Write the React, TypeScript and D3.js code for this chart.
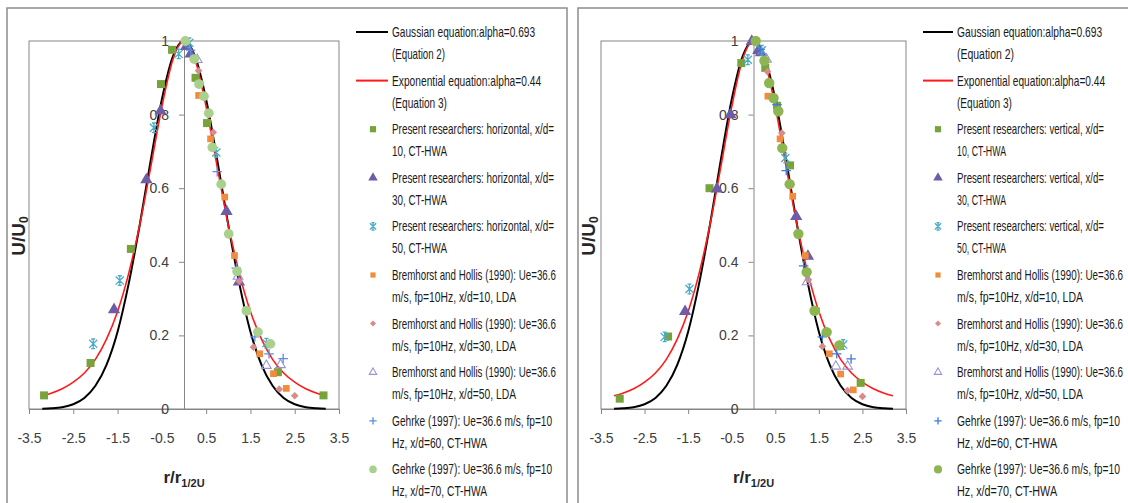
import React, { useEffect, useRef } from 'react';
import * as d3 from 'd3';

type Pt = [number, number];

// fitted curves at a few x positions
const curveX = [-3.2, -3, -2.75, -2.5, -2.25, -2, -1.75, -1.5, -1.25, -1, -0.75, -0.5, -0.25, 0,
  0.25, 0.5, 0.75, 1, 1.25, 1.5, 1.75, 2, 2.25, 2.5, 2.75, 3, 3.2];
const gaussianY = [0.001, 0.002, 0.005, 0.013, 0.03, 0.063, 0.12, 0.21, 0.34, 0.5, 0.677, 0.841, 0.958, 1,
  0.958, 0.841, 0.677, 0.5, 0.34, 0.21, 0.12, 0.063, 0.03, 0.013, 0.005, 0.002, 0.001];
const exponentialY = [0.036, 0.043, 0.055, 0.073, 0.098, 0.135, 0.19, 0.265, 0.368, 0.5, 0.658, 0.821, 0.95, 1,
  0.95, 0.821, 0.658, 0.5, 0.368, 0.265, 0.19, 0.135, 0.098, 0.073, 0.055, 0.043, 0.036];

// horizontal traverse (left chart)
const hPresent10: Pt[] = [[-3.16, 0.037], [-2.11, 0.125], [-1.2, 0.435], [-0.52, 0.883], [-0.27, 0.976], [0.26, 0.9], [0.52, 0.777], [2.12, 0.1], [3.15, 0.037]];
const hPresent30: Pt[] = [[-1.58, 0.27], [-0.85, 0.623], [-0.53, 0.81], [0.05, 0.985], [0.15, 0.965], [0.96, 0.537], [1.24, 0.345]];
const hPresent50: Pt[] = [[-2.05, 0.177], [-1.45, 0.349], [-0.68, 0.764], [-0.12, 0.965], [0.12, 0.995], [0.73, 0.697], [1.86, 0.179]];
const hBrem10: Pt[] = [[0.33, 0.852], [0.6, 0.734], [0.92, 0.576], [1.14, 0.417], [1.43, 0.267], [1.71, 0.15], [2.02, 0.096], [2.31, 0.056]];
const hBrem30: Pt[] = [[0.33, 0.919], [0.66, 0.752], [1.25, 0.347], [1.57, 0.168], [2.15, 0.054], [2.5, 0.036]];
const hBrem50: Pt[] = [[0.3, 0.949], [1.22, 0.36], [1.86, 0.118], [2.18, 0.12]];
const hGehrke60: Pt[] = [[0.15, 0.975], [0.75, 0.645], [1.18, 0.383], [1.6, 0.196], [1.92, 0.15], [2.24, 0.137]];
const hGehrke70: Pt[] = [[0.03, 1.0], [0.23, 0.951], [0.34, 0.883], [0.45, 0.85], [0.56, 0.804], [0.64, 0.711], [0.84, 0.611], [1.01, 0.476], [1.2, 0.374], [1.41, 0.267], [1.67, 0.209], [1.95, 0.177]];

// vertical traverse (right chart)
const vPresent10: Pt[] = [[-3.07, 0.028], [-1.96, 0.197], [-1.01, 0.6], [-0.28, 0.94], [0.27, 0.927], [0.54, 0.824], [0.84, 0.662], [2.46, 0.071]];
const vPresent30: Pt[] = [[-1.57, 0.265], [-0.84, 0.598], [-0.53, 0.8], [-0.04, 0.999], [0.11, 0.974], [0.17, 0.968], [0.98, 0.523], [1.25, 0.415]];
const vPresent50: Pt[] = [[-2.04, 0.196], [-1.47, 0.326], [-0.13, 0.949], [0.19, 0.975], [0.73, 0.682], [2.06, 0.175]];
const vBrem10: Pt[] = [[0.33, 0.85], [0.61, 0.734], [0.9, 0.578], [1.19, 0.417], [1.45, 0.267], [1.74, 0.15], [2.0, 0.095], [2.29, 0.052]];
const vBrem30: Pt[] = [[0.32, 0.917], [0.65, 0.75], [1.26, 0.351], [1.58, 0.17], [2.16, 0.05], [2.5, 0.034]];
const vBrem50: Pt[] = [[0.3, 0.95], [1.23, 0.345], [1.89, 0.116], [2.16, 0.116]];
const vGehrke60: Pt[] = [[0.15, 0.977], [0.54, 0.827], [0.75, 0.648], [1.15, 0.389], [1.58, 0.196], [1.91, 0.15], [2.24, 0.136]];
const vGehrke70: Pt[] = [[0.05, 1.0], [0.25, 0.946], [0.36, 0.886], [0.46, 0.845], [0.57, 0.809], [0.66, 0.709], [0.83, 0.611], [1.03, 0.476], [1.22, 0.372], [1.4, 0.267], [1.68, 0.209], [1.97, 0.173]];

const xTicks = [-3.5, -2.5, -1.5, -0.5, 0.5, 1.5, 2.5, 3.5];
const yTicks = [0, 0.2, 0.4, 0.6, 0.8, 1];

const legendH: string[][] = [
  ['Gaussian equation:alpha=0.693', '(Equation 2)'],
  ['Exponential equation:alpha=0.44', '(Equation 3)'],
  ['Present researchers: horizontal, x/d=', '10, CT-HWA'],
  ['Present researchers: horizontal, x/d=', '30, CT-HWA'],
  ['Present researchers: horizontal, x/d=', '50, CT-HWA'],
  ['Bremhorst and Hollis (1990): Ue=36.6', 'm/s, fp=10Hz, x/d=10, LDA'],
  ['Bremhorst and Hollis (1990): Ue=36.6', 'm/s, fp=10Hz, x/d=30, LDA'],
  ['Bremhorst and Hollis (1990): Ue=36.6', 'm/s, fp=10Hz, x/d=50, LDA'],
  ['Gehrke (1997): Ue=36.6 m/s, fp=10', 'Hz, x/d=60, CT-HWA'],
  ['Gehrke (1997): Ue=36.6 m/s, fp=10', 'Hz, x/d=70, CT-HWA'],
];
const legendV: string[][] = legendH.map((l, i) =>
  i >= 2 && i <= 4 ? [l[0].replace('horizontal', 'vertical'), l[1]] : l);

// rendered widths of the condensed legend text
const widthsH = [[143, 53], [149, 55], [162, 55], [162, 55], [162, 55], [164, 124], [164, 124], [164, 124], [160, 95], [160, 95]];
const widthsV = [[145, 57], [148, 55], [147, 49], [147, 49], [147, 49], [166, 126], [166, 126], [166, 126], [163, 100], [163, 100]];

type MarkerStyle = { kind: string; fill: string; stroke: string; size: number };

const asteriskPath = (r: number) =>
  `M${-r},${-r}L${r},${r}M${-r},${r}L${r},${-r}M0,${-r * 1.2}L0,${r * 1.2}M${-r * 0.5},${-r * 1.2}L${r * 0.5},${-r * 1.2}M${-r * 0.5},${r * 1.2}L${r * 0.5},${r * 1.2}`;

function markerPath(kind: string, size: number): string {
  const sym = d3.symbol();
  if (kind === 'square') return sym.type(d3.symbolSquare).size(size)() as string;
  if (kind === 'triangle') return sym.type(d3.symbolTriangle).size(size)() as string;
  if (kind === 'circle') return sym.type(d3.symbolCircle).size(size)() as string;
  if (kind === 'diamond') return sym.type(d3.symbolSquare).size(size)() as string;
  if (kind === 'plus') {
    const r = Math.sqrt(size) / 2;
    return `M${-r},0L${r},0M0,${-r}L0,${r}`;
  }
  return asteriskPath(Math.sqrt(size) / 2.6);
}

const Marker = ({ m, cx, cy, scale = 1 }: { m: MarkerStyle; cx: number; cy: number; scale?: number }) => (
  <path
    d={markerPath(m.kind, m.size * scale)}
    transform={`translate(${cx},${cy})${m.kind === 'diamond' ? ' rotate(45)' : ''}`}
    fill={m.fill}
    stroke={m.stroke}
    strokeWidth={m.kind === 'plus' || m.kind === 'asterisk' ? 1.3 : m.kind === 'triangle' && m.fill === 'none' ? 1.1 : 0}
  />
);

type PanelProps = {
  frameX: number;
  plotX0: number;
  plotX1: number;
  yTitleX: number;
  lineX0: number;
  lineX1: number;
  markerX: number;
  textX: number;
  series: Pt[][];
  styles: MarkerStyle[];
  legend: string[][];
  widths: number[][];
};

const PLOT_TOP = 41;
const PLOT_BOTTOM = 409;
const AXIS_GREY = '#868686';
const FONT = '"Liberation Sans", Arial, sans-serif';

function Panel(p: PanelProps) {
  const xAxisRef = useRef<SVGGElement>(null);
  const yAxisRef = useRef<SVGGElement>(null);
  const legendRef = useRef<SVGGElement>(null);
  const x = d3.scaleLinear().domain([-3.5, 3.5]).range([p.plotX0, p.plotX1]);
  const y = d3.scaleLinear().domain([0, 1]).range([PLOT_BOTTOM, PLOT_TOP]);

  useEffect(() => {
    const xa = d3.axisBottom(x).tickValues(xTicks).tickSize(5).tickSizeOuter(0).tickPadding(19)
      .tickFormat((d) => (d as number).toFixed(1));
    const gx = d3.select(xAxisRef.current!).call(xa);
    const ya = d3.axisLeft(y).tickValues(yTicks).tickSize(5).tickSizeOuter(0).tickPadding(10)
      .tickFormat((d) => String(d));
    const gy = d3.select(yAxisRef.current!).call(ya);
    [gx, gy].forEach((g) => {
      g.selectAll('path, line').attr('stroke', AXIS_GREY);
      g.selectAll('text').attr('fill', '#404040').style('font-size', '14px').style('font-family', FONT);
    });

    // squeeze legend text horizontally to the condensed widths of the original
    d3.select(legendRef.current!).selectAll<SVGTextElement, unknown>('text.lg').each(function () {
      const w = +this.getAttribute('data-w')!;
      const tx = this.getAttribute('data-x');
      const ty = this.getAttribute('data-y');
      const natural = this.getComputedTextLength();
      const k = natural > 0 ? w / natural : 1;
      this.setAttribute('transform', `translate(${tx},${ty}) scale(${k},1)`);
    });
  }, []);

  const line = d3.line<number>().x((_, i) => x(curveX[i])).y((d) => y(d)).curve(d3.curveMonotoneX);

  return (
    <g>
      <rect x={p.frameX} y={8} width={560} height={600} fill="none" stroke="#8c8c8c" strokeWidth={1.5} />
      <rect x={p.plotX0} y={PLOT_TOP} width={p.plotX1 - p.plotX0} height={PLOT_BOTTOM - PLOT_TOP}
        fill="none" stroke={AXIS_GREY} strokeWidth={1} />
      <g ref={xAxisRef} transform={`translate(0,${PLOT_BOTTOM})`} />
      <g ref={yAxisRef} transform={`translate(${x(0)},0)`} />

      <path d={line(gaussianY) || ''} fill="none" stroke="#000" strokeWidth={2} />
      <path d={line(exponentialY) || ''} fill="none" stroke="#ff1a1a" strokeWidth={1.6} />

      {p.series.map((s, si) => (
        <g key={si}>
          {s.map((d, i) => <Marker key={i} m={p.styles[si]} cx={x(d[0])} cy={y(d[1])} />)}
        </g>
      ))}

      <text x={x(0)} y={483} textAnchor="middle" fontFamily={FONT} fontWeight="bold" fontSize={17} fill="#262626">
        r/r<tspan fontSize={11} dy={4}>1/2U</tspan>
      </text>
      <text transform={`translate(${p.yTitleX},236) rotate(-90)`} textAnchor="middle" fontFamily={FONT}
        fontWeight="bold" fontSize={19} fill="#262626" dominantBaseline="middle">
        U/U<tspan fontSize={12} dy={5}>0</tspan>
      </text>

      <g ref={legendRef}>
        {p.legend.map((lines, i) => {
          const cy = 32 + i * 48.6;
          return (
            <g key={i}>
              {i === 0 && <line x1={p.lineX0} x2={p.lineX1} y1={cy} y2={cy} stroke="#000" strokeWidth={2} />}
              {i === 1 && <line x1={p.lineX0} x2={p.lineX1} y1={cy} y2={cy} stroke="#ff1a1a" strokeWidth={2} />}
              {i >= 2 && <Marker m={p.styles[i - 2]} cx={p.markerX} cy={cy} scale={0.6} />}
              {lines.map((t, j) => (
                <text key={j} className="lg" data-w={p.widths[i][j]} data-x={p.textX} data-y={cy + 5 + j * 22}
                  transform={`translate(${p.textX},${cy + 5 + j * 22}) scale(0.75,1)`}
                  fontFamily={FONT} fontSize={14} fill="#1a1a1a">{t}</text>
              ))}
            </g>
          );
        })}
      </g>
    </g>
  );
}

const baseStyles: MarkerStyle[] = [
  { kind: 'square', fill: '#77a33b', stroke: 'none', size: 64 },
  { kind: 'triangle', fill: '#6f5ca6', stroke: 'none', size: 65 },
  { kind: 'asterisk', fill: 'none', stroke: '#4bacc6', size: 110 },
  { kind: 'square', fill: '#f08c3c', stroke: 'none', size: 45 },
  { kind: 'diamond', fill: '#d98b8b', stroke: 'none', size: 30 },
  { kind: 'triangle', fill: 'none', stroke: '#9d92d0', size: 40 },
  { kind: 'plus', fill: 'none', stroke: '#5a8de0', size: 90 },
  { kind: 'circle', fill: '#a9d18e', stroke: 'none', size: 75 },
];
const rightStyles: MarkerStyle[] = baseStyles.map((s, i) =>
  i === 7 ? { ...s, fill: '#8db552', size: 85 } : i === 6 ? { ...s, stroke: '#3d7ae0' } : s);

export default function App() {
  return (
    <div style={{ position: 'absolute', left: 0, top: 0 }}>
      <svg width={1128} height={503} style={{ display: 'block', background: '#fff' }}>
        <Panel frameX={7} plotX0={29} plotX1={339} yTitleX={20} lineX0={356} lineX1={388} markerX={373}
          textX={392} series={[hPresent10, hPresent30, hPresent50, hBrem10, hBrem30, hBrem50, hGehrke60, hGehrke70]}
          styles={baseStyles} legend={legendH} widths={widthsH} />
        <Panel frameX={578} plotX0={601} plotX1={906} yTitleX={590} lineX0={923} lineX1={953} markerX={938}
          textX={957} series={[vPresent10, vPresent30, vPresent50, vBrem10, vBrem30, vBrem50, vGehrke60, vGehrke70]}
          styles={rightStyles} legend={legendV} widths={widthsV} />
      </svg>
    </div>
  );
}
